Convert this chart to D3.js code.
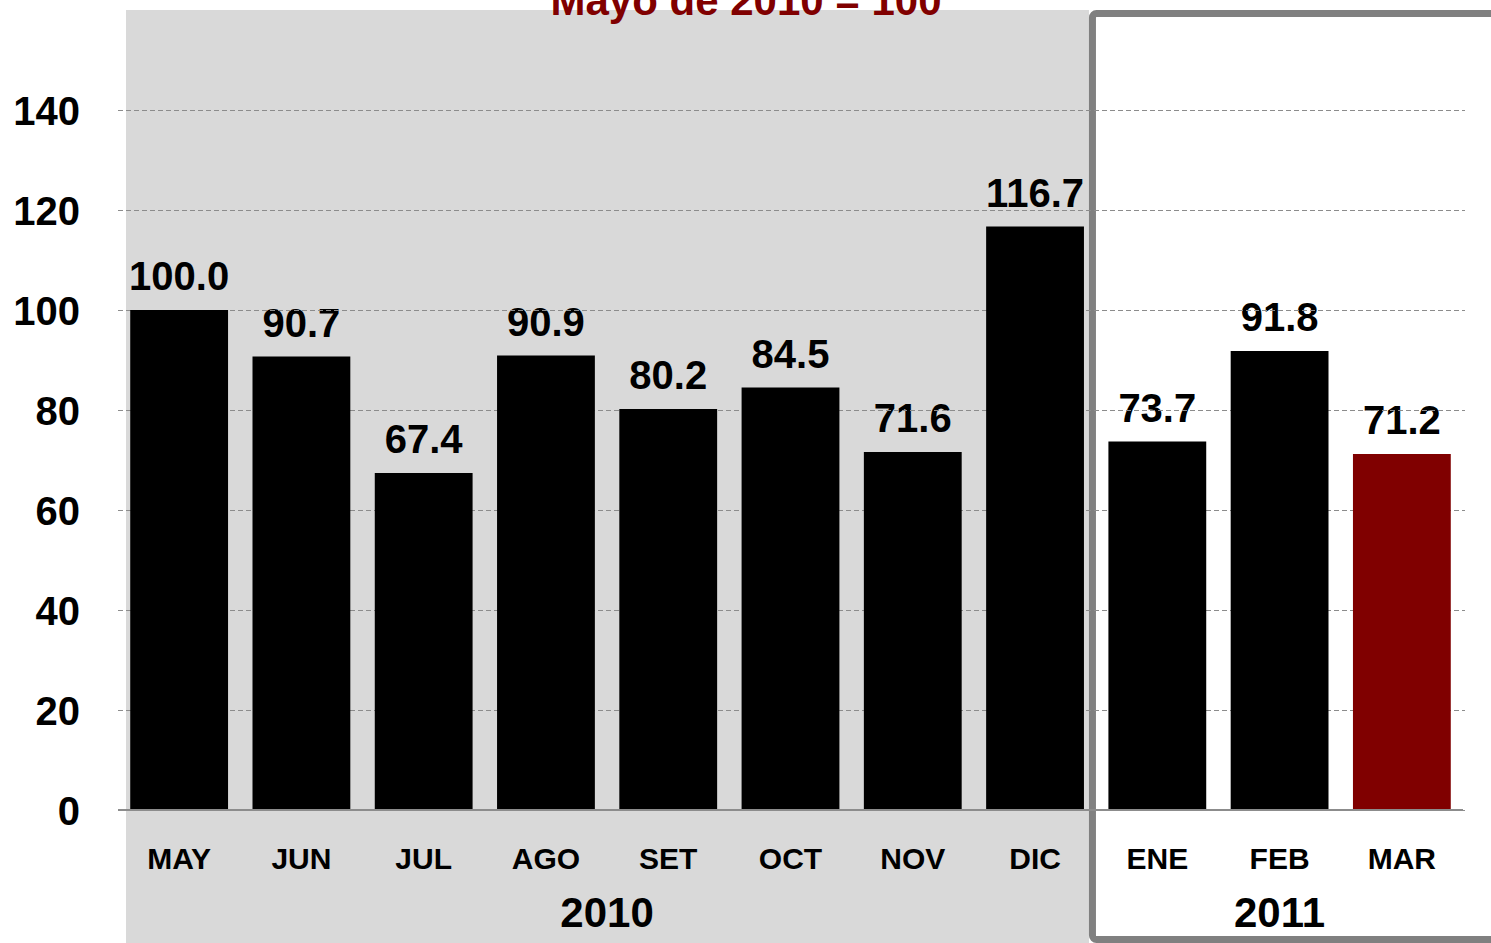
<!DOCTYPE html>
<html>
<head>
<meta charset="utf-8">
<script src="https://cdn.jsdelivr.net/npm/d3@7"></script>
<style>
  html, body { margin: 0; padding: 0; background: #fff; }
  svg text { font-family: "Liberation Sans", Arial, sans-serif; font-weight: bold; }
</style>
</head>
<body>
<div id="chart"></div>
<script>
// data
const months = ['MAY', 'JUN', 'JUL', 'AGO', 'SET', 'OCT', 'NOV', 'DIC', 'ENE', 'FEB', 'MAR']
const values = [100.0, 90.7, 67.4, 90.9, 80.2, 84.5, 71.6, 116.7, 73.7, 91.8, 71.2]
const years = [
  { label: '2010', from: 'MAY', to: 'DIC' },
  { label: '2011', from: 'ENE', to: 'MAR' }
]
const yTicks = [0, 20, 40, 60, 80, 100, 120, 140]
const title = 'Mayo de 2010 = 100'

const W = 1491, H = 943
const margin = { top: 110, right: 28, bottom: 133, left: 118 }
const plotW = W - margin.left - margin.right
const plotH = H - margin.top - margin.bottom

const svg = d3.select('#chart').append('svg')
  .attr('width', W)
  .attr('height', H)

/**
 * Scales
 */
const x = d3.scaleBand()
  .domain(months)
  .range([margin.left, margin.left + plotW])
  .paddingInner(0.2)
  .paddingOuter(0.1)

const y = d3.scaleLinear()
  .domain([0, 140])
  .range([margin.top + plotH, margin.top])

// grey panel for 2010 and framed box for 2011
const splitX = x('DIC') + x.bandwidth() + 5
svg.append('rect')
  .attr('x', 126).attr('y', 10)
  .attr('width', splitX - 126).attr('height', H - 10)
  .attr('fill', '#d9d9d9')

svg.append('rect')
  .attr('x', splitX + 3.5).attr('y', 13.5)
  .attr('width', W).attr('height', H - 13.5 - 3.5)
  .attr('rx', 4)
  .attr('fill', '#fff')
  .attr('stroke', '#808080')
  .attr('stroke-width', 7)

// value labels (gridlines are drawn over them, like the original)
svg.append('g').selectAll('text')
  .data(values)
  .enter().append('text')
  .attr('text-anchor', 'middle')
  .attr('x', (d, i) => x(months[i]) + x.bandwidth() / 2)
  .attr('y', d => y(d) - 20)
  .attr('font-size', 40)
  .attr('fill', '#000')
  .text(d => d.toFixed(1))

// y axis + gridlines
const yAxis = svg.append('g')
  .attr('transform', `translate(${margin.left},0)`)
  .call(d3.axisLeft(y).tickValues(yTicks).tickSize(-plotW - 2).tickPadding(38))
yAxis.select('.domain').remove()
yAxis.selectAll('line')
  .attr('stroke', '#8c8c8c')
  .attr('stroke-width', 1.2)
  .attr('stroke-dasharray', d => d === 0 ? null : '5,3')
yAxis.selectAll('text')
  .attr('font-size', 40)
  .attr('fill', '#000')
  .attr('dy', '0.36em')

// bars
svg.append('g').selectAll('rect')
  .data(values)
  .enter().append('rect')
  .attr('x', (d, i) => x(months[i]))
  .attr('y', d => y(d))
  .attr('width', x.bandwidth())
  .attr('height', d => y(0) - y(d))
  .attr('fill', (d, i) => i === values.length - 1 ? '#800000' : '#000')

// baseline
svg.append('line')
  .attr('x1', margin.left).attr('x2', margin.left + plotW)
  .attr('y1', y(0)).attr('y2', y(0))
  .attr('stroke', '#8c8c8c').attr('stroke-width', 2)

// x axis month labels
const xAxis = svg.append('g')
  .attr('transform', `translate(0,${y(0)})`)
  .call(d3.axisBottom(x).tickSize(0).tickPadding(0))
xAxis.select('.domain').remove()
xAxis.selectAll('text')
  .attr('font-size', 30)
  .attr('fill', '#000')
  .attr('dy', '0')
  .attr('y', 59)

// year labels
svg.append('g').selectAll('text')
  .data(years)
  .enter().append('text')
  .attr('text-anchor', 'middle')
  .attr('x', d => (x(d.from) + x(d.to) + x.bandwidth()) / 2)
  .attr('y', 927)
  .attr('font-size', 42)
  .attr('fill', '#000')
  .text(d => d.label)

// title (cut off at the top, as in the source)
svg.append('text')
  .attr('text-anchor', 'middle')
  .attr('x', 746)
  .attr('y', 15)
  .attr('font-size', 42)
  .attr('fill', '#800000')
  .text(title)
</script>
</body>
</html>
